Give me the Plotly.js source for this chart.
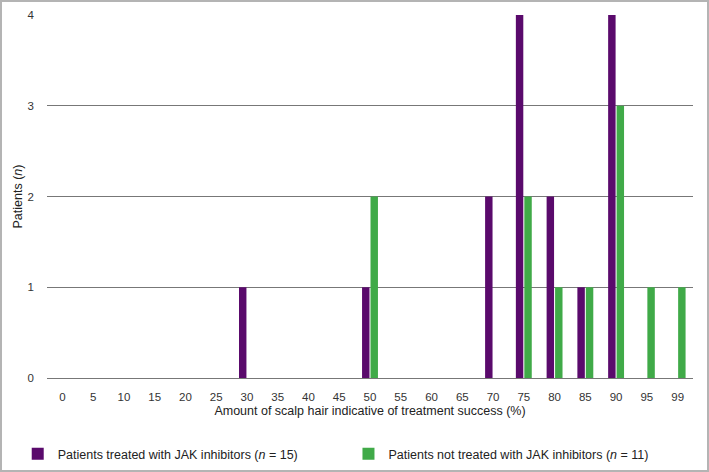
<!DOCTYPE html>
<html>
<head>
<meta charset="utf-8">
<script src="https://cdn.plot.ly/plotly-3.0.1.min.js"></script>
<style>
  html, body { margin: 0; padding: 0; background: #fff; }
  #wrap { position: relative; width: 709px; height: 472px; }
  #chart { width: 709px; height: 472px; }
  #frame { position: absolute; left: 0; top: 0; width: 709px; height: 472px; box-sizing: border-box; border: 2px solid #b4b4b4; pointer-events: none; }
</style>
</head>
<body>
<div id="wrap"><div id="chart"></div><div id="frame"></div></div>
<script>
const categories = ['0','5','10','15','20','25','30','35','40','45','50','55','60','65','70','75','80','85','90','95','99'];
const treated    = [0,0,0,0,0,0,1,0,0,0,1,0,0,0,2,4,2,1,4,0,0];
const notTreated = [0,0,0,0,0,0,0,0,0,0,2,0,0,0,0,2,1,1,3,1,1];
const seriesNames = ['Patients treated with JAK inhibitors (<i>n</i> = 15)', 'Patients not treated with JAK inhibitors (<i>n</i> = 11)'];
const xTitle = 'Amount of scalp hair indicative of treatment success (%)';
const yTitle = 'Patients (<i>n</i>)';
const yTicks = [0,1,2,3,4];

const font = 'Liberation Sans, Arial, sans-serif';
const traces = [
  { type: 'bar', x: categories, y: treated, name: seriesNames[0], marker: { color: '#5a0a6c' }, legend: 'legend' },
  { type: 'bar', x: categories, y: notTreated, name: seriesNames[1], marker: { color: '#40aa48' }, legend: 'legend2' }
];
const legendFont = { size: 12.5, family: font, color: '#222' };
const layout = {
  width: 709, height: 472,
  margin: { l: 47, r: 16, t: 15, b: 94, autoexpand: false },
  paper_bgcolor: '#fff', plot_bgcolor: '#fff',
  font: { family: font, color: '#222', size: 12 },
  barmode: 'group', bargap: 0.45, bargroupgap: 0.12,
  showlegend: true,
  legend: {
    orientation: 'h', xref: 'container', yref: 'container',
    x: 0.025, y: 0.038, xanchor: 'left', yanchor: 'middle',
    font: legendFont
  },
  legend2: {
    orientation: 'h', xref: 'container', yref: 'container',
    x: 0.4915, y: 0.038, xanchor: 'left', yanchor: 'middle',
    font: legendFont
  },
  xaxis: {
    type: 'category', categoryorder: 'array', categoryarray: categories,
    showgrid: false, showline: false, zeroline: false, ticks: '',
    ticklabelstandoff: 10,
    tickfont: { size: 11.5, family: font, color: '#333' },
    title: { text: xTitle, font: { size: 12.5, family: font, color: '#222' }, standoff: 4 }
  },
  yaxis: {
    range: [0, 4], tickvals: yTicks, ticks: '',
    showgrid: true, gridcolor: '#777', gridwidth: 1,
    zeroline: true, zerolinecolor: '#777', zerolinewidth: 1,
    showline: false, ticklabelstandoff: 12,
    tickfont: { size: 11.5, family: font, color: '#333' },
    title: { text: yTitle, font: { size: 12.5, family: font, color: '#222' }, standoff: 2 }
  }
};
Plotly.newPlot('chart', traces, layout, { displayModeBar: false, staticPlot: true });
</script>
</body>
</html>
